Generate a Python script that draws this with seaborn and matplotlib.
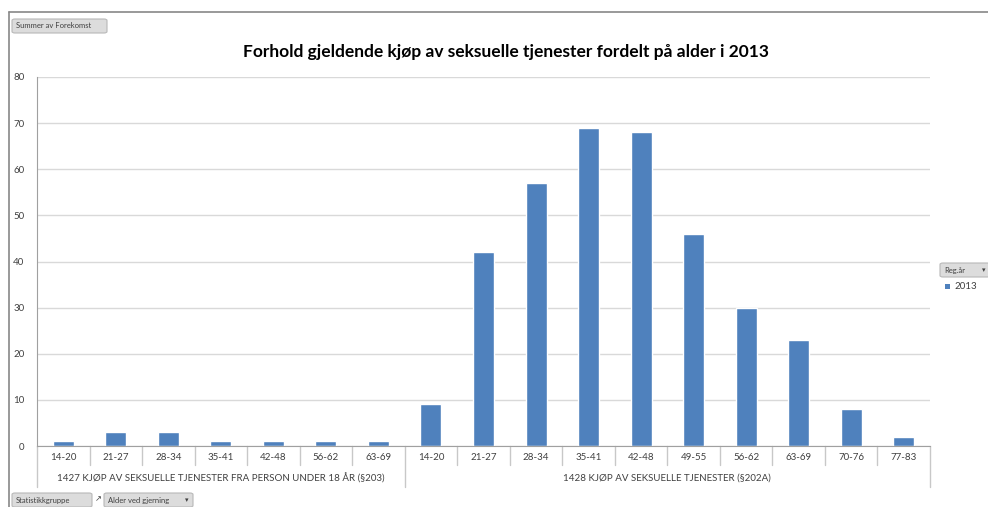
import matplotlib
matplotlib.use("Agg")
import matplotlib.pyplot as plt
from matplotlib.patches import FancyBboxPatch
from matplotlib.lines import Line2D
import seaborn as sns
import pandas as pd

# data
group_names = [
    "1427 KJØP AV SEKSUELLE TJENESTER FRA PERSON UNDER 18 ÅR (§203)",
    "1428 KJØP AV SEKSUELLE TJENESTER (§202A)",
]
ages_203 = ["14-20", "21-27", "28-34", "35-41", "42-48", "56-62", "63-69"]
counts_203 = [1, 3, 3, 1, 1, 1, 1]
ages_202a = ["14-20", "21-27", "28-34", "35-41", "42-48", "49-55", "56-62", "63-69", "70-76", "77-83"]
counts_202a = [9, 42, 57, 69, 68, 46, 30, 23, 8, 2]
year = "2013"

df = pd.DataFrame({
    "group": [group_names[0]] * len(ages_203) + [group_names[1]] * len(ages_202a),
    "age": ages_203 + ages_202a,
    "count": counts_203 + counts_202a,
})
df["pos"] = range(len(df))

sns.set_style("white")
plt.rcParams["font.family"] = ["Lato", "DejaVu Sans"]

W, H = 988, 507
fig = plt.figure(figsize=(W / 100, H / 100), dpi=100)
x0, x1, y0, y1 = 37, 930, 446, 77
ax = fig.add_axes([x0 / W, 1 - y0 / H, (x1 - x0) / W, (y0 - y1) / H])

bar_color = "#4F81BD"
sns.barplot(data=df, x="pos", y="count", order=list(df["pos"]), color=bar_color,
            width=0.4, saturation=1, ax=ax, label=year, legend=False)

n = len(df)
ax.set_xlim(-0.5, n - 0.5)
ax.set_ylim(0, 80)
ax.set_yticks(range(0, 81, 10))
ax.yaxis.grid(True, color="#d9d9d9", linewidth=1)
ax.set_axisbelow(True)
ax.tick_params(axis="y", labelsize=7, colors="#404040", length=4, width=0.8, pad=5)
ax.tick_params(axis="y", color="#a0a0a0")
ax.set_xticks([])
ax.set_xlabel("")
ax.set_ylabel("")
for s in ["top", "right"]:
    ax.spines[s].set_visible(False)
ax.spines["left"].set_color("#a0a0a0")
ax.spines["bottom"].set_color("#a0a0a0")

# multi level category axis
trans = ax.get_xaxis_transform()
px = 1 / (y0 - y1)
for i, age in enumerate(df["age"]):
    ax.text(i, -11 * px, age, transform=trans, ha="center", va="center",
            fontsize=7, color="#404040", clip_on=False)
bounds = [-0.5] + [i + 0.5 for i in range(n)]
group_edges = [-0.5, len(ages_203) - 0.5, n - 0.5]
for b in bounds:
    depth = 41 if b in group_edges else 19
    ax.add_line(Line2D([b, b], [0, -depth * px], transform=trans, color="#c8c8c8",
                       linewidth=1, clip_on=False))
for g, name in enumerate(group_names):
    mid = (group_edges[g] + group_edges[g + 1]) / 2
    ax.text(mid, -32 * px, name, transform=trans, ha="center", va="center",
            fontsize=7, color="#404040", clip_on=False)

fig.text(506 / W, 1 - 52 / H, "Forhold gjeldende kjøp av seksuelle tjenester fordelt på alder i 2013",
         ha="center", va="center", fontsize=12.5, fontweight="bold", color="#000000")

# chart border (top and left)
fig.add_artist(Line2D([9 / W, 1], [1 - 12 / H, 1 - 12 / H], color="#888888", linewidth=1.2))
fig.add_artist(Line2D([9 / W, 9 / W], [1 - 12 / H, 0], color="#888888", linewidth=1.2))


def button(x, y, w, h, label, arrow=False):
    fig.add_artist(FancyBboxPatch((x / W, 1 - (y + h) / H), w / W, h / H,
                                  boxstyle="round,pad=0,rounding_size=0.003",
                                  facecolor="#dcdcdc", edgecolor="#b8b8b8", linewidth=0.8))
    fig.text((x + 4) / W, 1 - (y + h / 2) / H, label, ha="left", va="center",
             fontsize=5.5, color="#404040")
    if arrow:
        fig.text((x + w - 6) / W, 1 - (y + h / 2) / H, "▾", ha="center", va="center",
                 fontsize=5, color="#404040", family="DejaVu Sans")


button(12, 19, 95, 14, "Summer av Forekomst")
button(12, 493, 80, 14, "Statistikkgruppe")
button(104, 493, 89, 14, "Alder ved gjerning", arrow=True)
fig.text(98 / W, 1 - 499 / H, "↗", fontsize=6, color="#404040", ha="center", va="center",
         family="DejaVu Sans")
button(940, 263, 50, 14, "Reg.år", arrow=True)

# legend entry
fig.patches.append(FancyBboxPatch((945 / W, 1 - 289 / H), 5 / W, 5 / H, boxstyle="square,pad=0",
                                  facecolor=bar_color, edgecolor="none", transform=fig.transFigure))
fig.text(954 / W, 1 - 286.5 / H, year, ha="left", va="center", fontsize=7, color="#404040")

fig.savefig("out.png", dpi=100, facecolor="white")
